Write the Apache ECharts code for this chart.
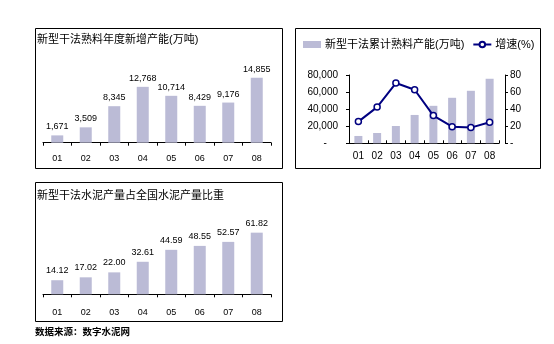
<!DOCTYPE html>
<html>
<head>
<meta charset="utf-8">
<script src="https://cdn.jsdelivr.net/npm/echarts@6/dist/echarts.min.js"></script>
<style>html,body{margin:0;padding:0;background:#fff;}#c{width:554px;height:344px;}</style>
</head>
<body>
<div id="c"></div>
<script>
var categories = ['01','02','03','04','05','06','07','08'];
var newCapacity = [1671, 3509, 8345, 12768, 10714, 8429, 9176, 14855];
var cumCapacity = [8600, 12100, 20300, 33200, 43900, 53300, 61500, 75600];
var growthRate = [25.4, 42.4, 70.6, 62.7, 32.5, 19.5, 18.4, 24.7];
var cementShare = [14.12, 17.02, 22.00, 32.61, 44.59, 48.55, 52.57, 61.82];
var title1 = '新型干法熟料年度新增产能(万吨)';
var title3 = '新型干法水泥产量占全国水泥产量比重';
var legendBar = '新型干法累计熟料产能(万吨)';
var legendLine = '增速(%)';
var sourceText = '数据来源：数字水泥网';

var FONT = 'Liberation Sans, Arial, Noto Sans CJK SC, sans-serif';
var BAR = '#BBBBD6';
var chart = echarts.init(document.getElementById('c'), null, {renderer: 'canvas'});

function fmtThousands(v){ return String(v).replace(/\B(?=(\d{3})+(?!\d))/g, ','); }

var catAxisBase = {
  type: 'category', data: categories, boundaryGap: true,
  axisLine: {show: true, lineStyle: {color: '#000', width: 1}},
  axisTick: {show: true, alignWithLabel: false, length: 3, lineStyle: {color: '#000'}},
  axisLabel: {color: '#000', fontFamily: FONT, fontSize: 9}
};

var option = {
  animation: false,
  backgroundColor: '#fff',
  title: [
    {text: title1, left: 37, top: 34, padding: 0, textStyle: {fontSize: 11, fontWeight: 'normal', color: '#000', fontFamily: FONT}},
    {text: title3, left: 37, top: 190, padding: 0, textStyle: {fontSize: 11, fontWeight: 'normal', color: '#000', fontFamily: FONT}},
    {text: sourceText, left: 35, top: 328, padding: 0, textStyle: {fontSize: 9.5, fontWeight: 'bold', color: '#000', fontFamily: FONT}}
  ],
  legend: {
    left: 303, top: 39, padding: 0, itemWidth: 18, itemHeight: 7, itemGap: 8,
    data: [{name: legendBar, icon: 'rect'}, {name: legendLine}],
    textStyle: {fontSize: 11, color: '#000', fontFamily: FONT, padding: [0,0,0,-1]}
  },
  grid: [
    {left: 43, width: 228, top: 72.7, height: 70},
    {left: 349, width: 150, top: 75, height: 68.3},
    {left: 43, width: 228, top: 224.5, height: 69.8}
  ],
  xAxis: [
    Object.assign({}, catAxisBase, {gridIndex: 0, axisLabel: Object.assign({}, catAxisBase.axisLabel, {margin: 11})}),
    Object.assign({}, catAxisBase, {gridIndex: 1, axisTick: {show: true, inside: true, length: 3, lineStyle: {color: '#000'}}, axisLabel: Object.assign({}, catAxisBase.axisLabel, {fontSize: 10, margin: 8})}),
    Object.assign({}, catAxisBase, {gridIndex: 2, axisLabel: Object.assign({}, catAxisBase.axisLabel, {margin: 14})})
  ],
  yAxis: [
    {gridIndex: 0, type: 'value', min: 0, max: 16000, show: false, splitLine: {show: false}},
    {gridIndex: 1, type: 'value', min: 0, max: 80000, interval: 20000, position: 'left',
      axisLine: {show: true, lineStyle: {color: '#000'}},
      axisTick: {show: true, length: 3, lineStyle: {color: '#000'}},
      splitLine: {show: false},
      axisLabel: {color: '#000', fontFamily: FONT, fontSize: 10, margin: 11,
        formatter: function(v){ return v === 0 ? '-    ' : fmtThousands(v); }}},
    {gridIndex: 1, type: 'value', min: 0, max: 80, interval: 20, position: 'right', offset: 6,
      axisLine: {show: true, onZero: false, lineStyle: {color: '#000'}},
      axisTick: {show: true, length: 3, lineStyle: {color: '#000'}},
      splitLine: {show: false},
      axisLabel: {color: '#000', fontFamily: FONT, fontSize: 10, margin: 5,
        formatter: function(v){ return v === 0 ? '-' : String(v); }}},
    {gridIndex: 2, type: 'value', min: 0, max: 70, show: false, splitLine: {show: false}}
  ],
  series: [
    {type: 'bar', xAxisIndex: 0, yAxisIndex: 0, data: newCapacity, barWidth: 12,
      itemStyle: {color: BAR},
      label: {show: true, position: 'top', distance: 4, color: '#000', fontFamily: FONT, fontSize: 9,
        formatter: function(p){ return fmtThousands(p.value); }}},
    {name: legendBar, type: 'bar', xAxisIndex: 1, yAxisIndex: 1, data: cumCapacity, barWidth: 8,
      itemStyle: {color: BAR}},
    {name: legendLine, type: 'line', xAxisIndex: 1, yAxisIndex: 2, data: growthRate,
      lineStyle: {color: '#000080', width: 2}, itemStyle: {color: '#fff', borderColor: '#000080', borderWidth: 1.5},
      symbol: 'circle', symbolSize: 6, showAllSymbol: true},
    {type: 'bar', xAxisIndex: 2, yAxisIndex: 3, data: cementShare, barWidth: 12,
      itemStyle: {color: BAR},
      label: {show: true, position: 'top', distance: 5, color: '#000', fontFamily: FONT, fontSize: 9,
        formatter: function(p){ return p.value.toFixed(2); }}}
  ],
  graphic: [
    {type: 'rect', silent: true, z: -1, shape: {x: 35.5, y: 28.5, width: 247, height: 140}, style: {fill: null, stroke: '#000', lineWidth: 1}},
    {type: 'rect', silent: true, z: -1, shape: {x: 295.5, y: 28.5, width: 245, height: 140}, style: {fill: null, stroke: '#000', lineWidth: 1}},
    {type: 'rect', silent: true, z: -1, shape: {x: 35.5, y: 182.5, width: 247, height: 139}, style: {fill: null, stroke: '#000', lineWidth: 1}}
  ]
};
chart.setOption(option);
</script>
</body>
</html>
